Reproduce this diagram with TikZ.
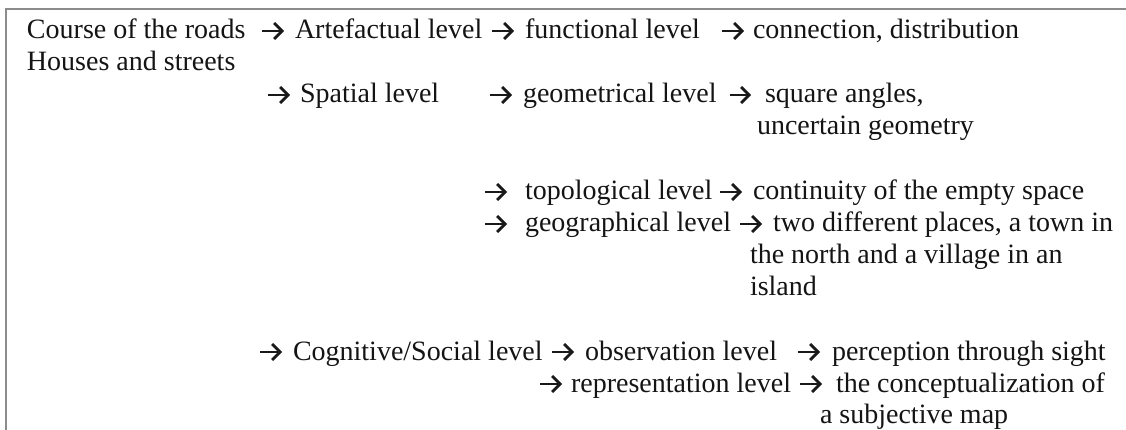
\documentclass[tikz,border=0pt]{standalone}
\usepackage{fontspec}
\setmainfont{Liberation Serif}
\usetikzlibrary{arrows.meta}
\tikzset{
  txt/.style={anchor=base west, inner sep=0pt, outer sep=0pt, text=black!92,
    font=\fontsize{28pt}{32pt}\selectfont},
  arr/.style={line width=2.7pt, black!90,
    -{Straight Barb[length=8pt,width=16pt,line join=miter]}},
  frame/.style={draw=black!45, line width=2pt}
}
\begin{document}
\begin{tikzpicture}[x=1pt,y=-1pt]
\useasboundingbox (0,0) rectangle (1126,430);
\draw[frame] (6,430) -- (6,9) -- (1126,9);
% row 1
\node[txt] (course) at (27,39) {Course of the roads};
\node[txt] (artef) at (295,39) {Artefactual level};
\node[txt] (func) at (525,39) {functional level};
\node[txt] (conn) at (753,39) {connection, distribution};
% row 2
\node[txt] (houses) at (27,71) {Houses and streets};
% row 3/4
\node[txt] (spatial) at (300,103) {Spatial level};
\node[txt] (geom) at (523,103) {geometrical level};
\node[txt] (square) at (765,103) {square angles,};
\node[txt] (uncert) at (757,135) {uncertain geometry};
% row 5
\node[txt] (topo) at (525,200) {topological level};
\node[txt] (contin) at (753,200) {continuity of the empty space};
% row 6-8
\node[txt] (geog) at (525,232) {geographical level};
\node[txt] (two) at (773,232) {two different places, a town in};
\node[txt] (north) at (750,263) {the north and a village in an};
\node[txt] (island) at (750,295) {island};
% row 9
\node[txt] (cogn) at (293,360) {Cognitive/Social level};
\node[txt] (obs) at (585,360) {observation level};
\node[txt] (perc) at (832,360) {perception through sight};
% row 10/11
\node[txt] (repr) at (571,392) {representation level};
\node[txt] (concept) at (836,392) {the conceptualization of};
\node[txt] (subj) at (820,423) {a subjective map};
% arrow coordinates
\coordinate (a1s) at (262,31); \coordinate (a1e) at (284,31);
\coordinate (a2s) at (492,31); \coordinate (a2e) at (514,31);
\coordinate (a3s) at (722,31); \coordinate (a3e) at (744,31);
\coordinate (b1s) at (268,95); \coordinate (b1e) at (290,95);
\coordinate (b2s) at (490,95); \coordinate (b2e) at (512,95);
\coordinate (b3s) at (730,95); \coordinate (b3e) at (751,95);
\coordinate (c1s) at (485,192); \coordinate (c1e) at (507,192);
\coordinate (c2s) at (720,192); \coordinate (c2e) at (742,192);
\coordinate (d1s) at (485,224); \coordinate (d1e) at (507,224);
\coordinate (d2s) at (740,224); \coordinate (d2e) at (762,224);
\coordinate (e1s) at (260,352); \coordinate (e1e) at (282,352);
\coordinate (e2s) at (552,352); \coordinate (e2e) at (574,352);
\coordinate (e3s) at (798,352); \coordinate (e3e) at (820,352);
\coordinate (f1s) at (540,384); \coordinate (f1e) at (562,384);
\coordinate (f2s) at (800,384); \coordinate (f2e) at (822,384);
\foreach \p in {a1,a2,a3,b1,b2,b3,c1,c2,d1,d2,e1,e2,e3,f1,f2}
  \draw[arr] (\p s) -- (\p e);
\end{tikzpicture}
\end{document}
